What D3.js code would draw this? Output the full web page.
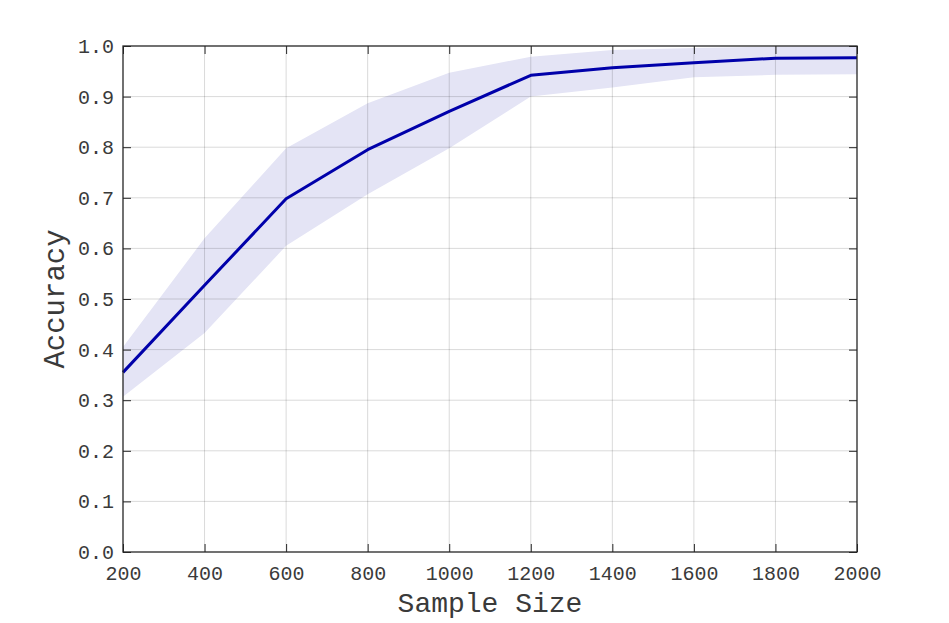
<!DOCTYPE html>
<html>
<head>
<meta charset="utf-8">
<script src="https://cdn.jsdelivr.net/npm/d3@7"></script>
<style>
  html, body { margin: 0; padding: 0; background: #fff; }
  svg { display: block; }
  text { font-family: "Liberation Mono", "Courier New", monospace; fill: #3a3a3a; }
</style>
</head>
<body>
<svg id="chart" width="949" height="623"></svg>
<script>
const sampleSizes = [200, 400, 600, 800, 1000, 1200, 1400, 1600, 1800, 2000];
const meanAccuracy = [0.355, 0.527, 0.698, 0.795, 0.871, 0.942, 0.957, 0.967, 0.976, 0.977];
const upperBound  = [0.405, 0.620, 0.798, 0.887, 0.947, 0.979, 0.992, 0.996, 0.999, 1.000];
const lowerBound  = [0.307, 0.433, 0.605, 0.707, 0.798, 0.900, 0.918, 0.938, 0.943, 0.944];
const xTicks = [200, 400, 600, 800, 1000, 1200, 1400, 1600, 1800, 2000];
const yTicks = [0.0, 0.1, 0.2, 0.3, 0.4, 0.5, 0.6, 0.7, 0.8, 0.9, 1.0];
const xLabel = "Sample Size";
const yLabel = "Accuracy";

(function () {
const mL = 123, mR = 857, mT = 46, mB = 552;
const svg = d3.select("#chart");
const x = d3.scaleLinear().domain([200, 2000]).range([mL, mR]);
const y = d3.scaleLinear().domain([0, 1]).range([mB, mT]);

const data = sampleSizes.map((s, i) => ({ s, m: meanAccuracy[i], u: upperBound[i], l: lowerBound[i] }));

svg.append("defs").append("clipPath").attr("id", "clip")
  .append("rect").attr("x", mL).attr("y", mT).attr("width", mR - mL).attr("height", mB - mT);

// band
svg.append("path").datum(data)
  .attr("clip-path", "url(#clip)")
  .attr("fill", "rgb(228,228,245)")
  .attr("d", d3.area().x(d => x(d.s)).y0(d => y(d.l)).y1(d => y(d.u)));

// grid
const grid = svg.append("g");
grid.selectAll(".gx").data(xTicks.slice(1, -1)).join("line")
  .attr("x1", d => x(d)).attr("x2", d => x(d)).attr("y1", mT).attr("y2", mB)
  .attr("stroke", "#000").attr("stroke-opacity", 0.15).attr("stroke-width", 1);
grid.selectAll(".gy").data(yTicks.slice(1, -1)).join("line")
  .attr("y1", d => y(d)).attr("y2", d => y(d)).attr("x1", mL).attr("x2", mR)
  .attr("stroke", "#000").attr("stroke-opacity", 0.15).attr("stroke-width", 1);

// line
svg.append("path").datum(data)
  .attr("fill", "none").attr("stroke", "#0000AA").attr("stroke-width", 3)
  .attr("stroke-linejoin", "round")
  .attr("d", d3.line().x(d => x(d.s)).y(d => y(d.m)));

// axes (ticks inside)
const tl = 8;
const fmtY = d3.format(".1f");
const styleText = g => g.selectAll("text").attr("font-size", 20).attr("font-family", "Liberation Mono").attr("fill", "#3a3a3a");
svg.append("g").attr("transform", `translate(0,${mB})`)
  .call(d3.axisBottom(x).tickValues(xTicks).tickSizeInner(-tl).tickSizeOuter(0).tickPadding(14).tickFormat(d3.format("d")))
  .call(g => { g.select(".domain").remove(); g.selectAll("line").attr("stroke", "#262626"); styleText(g); });
svg.append("g").attr("transform", `translate(0,${mT})`)
  .call(d3.axisTop(x).tickValues(xTicks).tickSizeInner(-tl).tickSizeOuter(0).tickFormat(""))
  .call(g => { g.select(".domain").remove(); g.selectAll("line").attr("stroke", "#262626"); });
svg.append("g").attr("transform", `translate(${mL},0)`)
  .call(d3.axisLeft(y).tickValues(yTicks).tickSizeInner(-tl).tickSizeOuter(0).tickPadding(9).tickFormat(fmtY))
  .call(g => { g.select(".domain").remove(); g.selectAll("line").attr("stroke", "#262626"); styleText(g); });
svg.append("g").attr("transform", `translate(${mR},0)`)
  .call(d3.axisRight(y).tickValues(yTicks).tickSizeInner(-tl).tickSizeOuter(0).tickFormat(""))
  .call(g => { g.select(".domain").remove(); g.selectAll("line").attr("stroke", "#262626"); });

// box
svg.append("rect").attr("x", mL).attr("y", mT).attr("width", mR - mL).attr("height", mB - mT)
  .attr("fill", "none").attr("stroke", "#262626").attr("stroke-width", 1.3);

// labels
svg.append("text").attr("x", (mL + mR) / 2).attr("y", 612).attr("text-anchor", "middle")
  .attr("font-size", 28).text(xLabel);
svg.append("text").attr("transform", `translate(64,${(mT + mB) / 2}) rotate(-90)`).attr("text-anchor", "middle")
  .attr("font-size", 29).text(yLabel);
})();
</script>
</body>
</html>
